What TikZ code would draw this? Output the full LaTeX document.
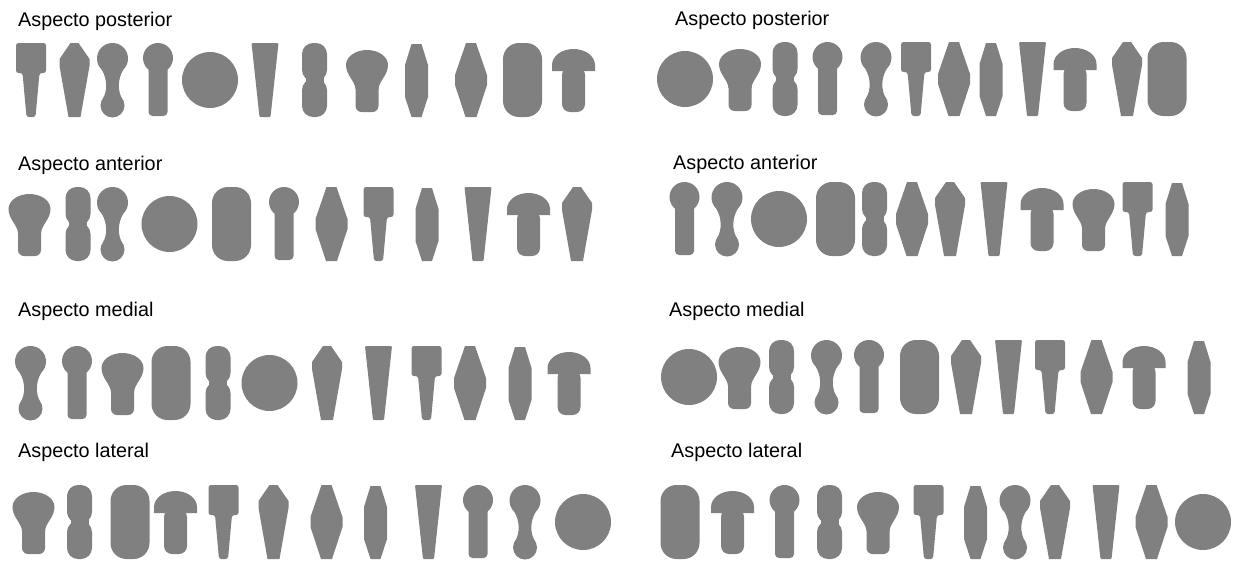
\documentclass[tikz,border=0pt]{standalone}
\usepackage{fontspec}
\setmainfont{Liberation Sans}
\definecolor{silhouette}{RGB}{128,128,128}

\tikzset{
  caption/.style={font=\fontsize{19.8}{22}\selectfont, inner sep=0pt, anchor=base west},
  solid/.style={fill=silhouette},
  pics/tbar/.style={code={
    \fill[solid, rounded corners=2.5] (-15,0) -- (15,0) -- (15,-30) -- (8.5,-30) -- (4.5,-74)
      -- (-4.5,-74) -- (-8.5,-30) -- (-15,-30) -- cycle;
  }},
  pics/kite/.style={code={
    \fill[solid] (-4,0) -- (4,0) -- (15,-16) -- (15,-23) -- (6,-74) -- (-6,-74)
      -- (-15,-23) -- (-15,-16) -- cycle;
  }},
  pics/bone/.style={code={
    \fill[solid] (0,-15.5) circle (15.5);
    \fill[solid] (0,-62.5) circle (12);
    \fill[solid] (-10.9,-26.5) .. controls (-5,-36) and (-5,-48) .. (-9.8,-56)
      -- (9.8,-56) .. controls (5,-48) and (5,-36) .. (10.9,-26.5) -- cycle;
  }},
  pics/keyhole/.style={code={
    \fill[solid] (0,-15) circle (15);
    \fill[solid, rounded corners=4] (-9.5,-15) rectangle (9.5,-73);
  }},
  pics/disc/.style={code={
    \fill[solid] (0,-37) circle (28);
  }},
  pics/wedge/.style={code={
    \fill[solid, rounded corners=1] (-13.5,0) -- (13.5,0) -- (5.5,-74) -- (-5.5,-74) -- cycle;
  }},
  pics/peanut/.style={code={
    \fill[solid, rounded corners=11] (-12.5,0) rectangle (12.5,-38);
    \fill[solid, rounded corners=11] (-12.5,-36) rectangle (12.5,-74);
    \fill[solid] (-9,-30) rectangle (9,-44);
  }},
  pics/bulb/.style={code={
    \fill[solid] (-11.5,-46) .. controls (-12,-38) and (-21,-32) .. (-21,-22)
      arc[start angle=180, end angle=0, x radius=21, y radius=15]
      .. controls (21,-32) and (12,-38) .. (11.5,-46) -- cycle;
    \fill[solid, rounded corners=6] (-11.5,-36) rectangle (11.5,-69);
  }},
  pics/spindle/.style={code={
    \fill[solid] (-5,-1) -- (5,-1) -- (11.5,-22) -- (11.5,-54) -- (5,-74) -- (-5,-74)
      -- (-11.5,-54) -- (-11.5,-22) -- cycle;
  }},
  pics/rhomb/.style={code={
    \fill[solid] (-5,0) -- (5,0) -- (16,-32) -- (16,-42) -- (5.5,-74) -- (-5.5,-74)
      -- (-16,-42) -- (-16,-32) -- cycle;
  }},
  pics/stadium/.style={code={
    \fill[solid, rounded corners=16] (-19.5,0) rectangle (19.5,-74);
  }},
  pics/mushroom/.style={code={
    \fill[solid] (-21.5,-28) -- (-21.5,-22) arc[start angle=180, end angle=0, x radius=21.5, y radius=16]
      -- (21.5,-28) -- cycle;
    \fill[solid, rounded corners=8] (-11.5,-24) rectangle (11.5,-69);
  }}
}

\begin{document}
\begin{tikzpicture}[x=1pt, y=1pt]
  \fill[white] (0,0) rectangle (1238,-562);
  \useasboundingbox (0,0) rectangle (1238,-562);

  \node[caption] (postL) at (18,-26) {Aspecto posterior};
  \node[caption] (postR) at (675,-25) {Aspecto posterior};
  \node[caption] (antL) at (18,-170) {Aspecto anterior};
  \node[caption] (antR) at (673,-169) {Aspecto anterior};
  \node[caption] (medL) at (18,-316) {Aspecto medial};
  \node[caption] (medR) at (669,-316) {Aspecto medial};
  \node[caption] (latL) at (18,-457) {Aspecto lateral};
  \node[caption] (latR) at (671,-457) {Aspecto lateral};

  % posterior
  \foreach \s/\x in {tbar/31, kite/74.5, bone/112.5, keyhole/158, disc/210, wedge/265,
      peanut/314.5, bulb/367, spindle/416.5, rhomb/471, stadium/522.5, mushroom/573.5}
    \pic at (\x,-43) {\s};
  \foreach \s/\x in {disc/685, bulb/740, peanut/785, keyhole/827.5, bone/876, tbar/916,
      rhomb/954, spindle/991, wedge/1032.5, mushroom/1075, kite/1127, stadium/1167}
    \pic at (\x,-42) {\s};

  % anterior
  \foreach \s/\x in {bulb/29.5, peanut/78, bone/112.5, disc/169.5, stadium/231.5, keyhole/284,
      rhomb/331.5, tbar/378.5, spindle/427, wedge/478, mushroom/528.5, kite/577}
    \pic at (\x,-187) {\s};
  \foreach \s/\x in {keyhole/684.5, bone/727, disc/779, stadium/835.5, peanut/874.5, rhomb/912,
      kite/950, wedge/994, mushroom/1042, bulb/1093.5, tbar/1137.5, spindle/1177}
    \pic at (\x,-182) {\s};

  % medial
  \foreach \s/\x in {bone/30.5, keyhole/77, bulb/122.5, stadium/171, peanut/218, disc/269.5,
      kite/327, wedge/378.5, tbar/426.5, rhomb/470, spindle/520, mushroom/569}
    \pic at (\x,-346) {\s};
  \foreach \s/\x in {disc/689, bulb/739.5, peanut/781.5, bone/826.5, keyhole/869, stadium/919.5,
      kite/966, wedge/1008.5, tbar/1050, rhomb/1096.5, mushroom/1144, spindle/1199}
    \pic at (\x,-340) {\s};

  % lateral
  \foreach \s/\x in {bulb/33.5, peanut/79.5, stadium/130, mushroom/175.5, tbar/223.5, kite/273.5,
      rhomb/326.5, spindle/375.5, wedge/428.5, keyhole/478, bone/525, disc/583}
    \pic at (\x,-485) {\s};
  \foreach \s/\x in {stadium/680, mushroom/732.5, keyhole/784.5, peanut/829.5, bulb/878, tbar/928.5,
      spindle/975.5, bone/1015, kite/1055, wedge/1106, rhomb/1151.5, disc/1203}
    \pic at (\x,-485) {\s};
\end{tikzpicture}
\end{document}
